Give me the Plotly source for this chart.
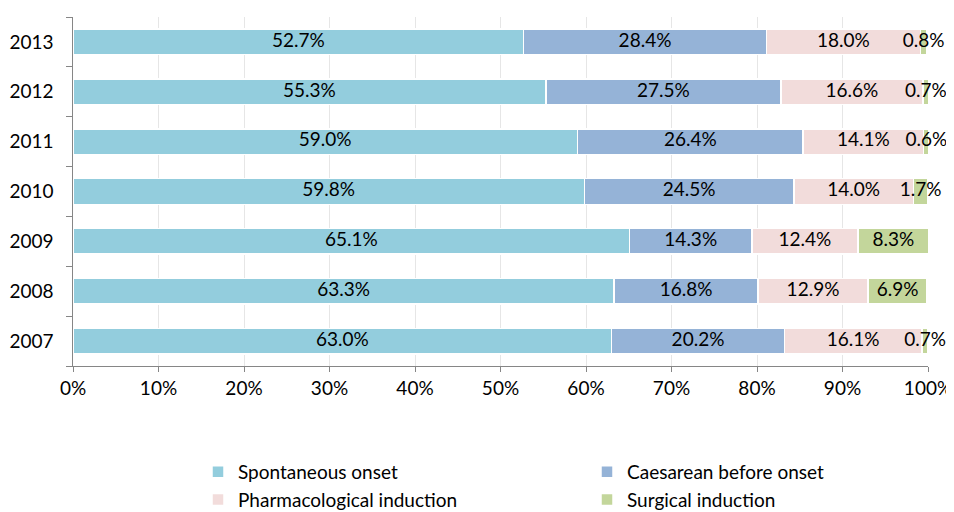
import plotly.graph_objects as go

years = ['2007', '2008', '2009', '2010', '2011', '2012', '2013']
spontaneous = [63.0, 63.3, 65.1, 59.8, 59.0, 55.3, 52.7]
caesarean = [20.2, 16.8, 14.3, 24.5, 26.4, 27.5, 28.4]
pharmacological = [16.1, 12.9, 12.4, 14.0, 14.1, 16.6, 18.0]
surgical = [0.7, 6.9, 8.3, 1.7, 0.6, 0.7, 0.8]

series = [
    ('Spontaneous onset', spontaneous, '#93CDDD'),
    ('Caesarean before onset', caesarean, '#95B3D7'),
    ('Pharmacological induction', pharmacological, '#F2DCDB'),
    ('Surgical induction', surgical, '#C3D69B'),
]

FONT = 'Lato, Open Sans, sans-serif'
# page body has an 8px default margin, so the figure is 8px smaller each way
W, H = 946, 504

fig = go.Figure()
base = [0.0] * len(years)
for name, vals, color in series:
    fig.add_trace(go.Bar(
        y=years,
        x=vals,
        name=name,
        orientation='h',
        marker=dict(color=color, line=dict(color='white', width=1.5)),
    ))
    # value labels centred on each segment (small ones may overflow)
    fig.add_trace(go.Scatter(
        y=years,
        x=[b + v / 2 for b, v in zip(base, vals)],
        text=[f'{v:.1f}%' for v in vals],
        mode='text',
        textposition='middle center',
        textfont=dict(family=FONT, size=19, color='black'),
        showlegend=False,
        hoverinfo='skip',
        cliponaxis=False,
    ))
    base = [b + v for b, v in zip(base, vals)]

fig.update_layout(
    barmode='stack',
    bargap=0.486,
    width=W,
    height=H,
    margin=dict(l=65, r=26, t=9, b=146),
    font=dict(family=FONT, size=19, color='black'),
    paper_bgcolor='white',
    plot_bgcolor='white',
    xaxis=dict(
        range=[0, 100],
        tickvals=[0, 10, 20, 30, 40, 50, 60, 70, 80, 90, 100],
        ticktext=['0%', '10%', '20%', '30%', '40%', '50%', '60%', '70%', '80%', '90%', '100%'],
        tickangle=0,
        showgrid=True,
        gridcolor='#E6E6E6',
        gridwidth=1,
        showline=True,
        linecolor='#868686',
        ticks='outside',
        ticklen=5,
        tickcolor='#868686',
        zeroline=False,
        automargin=False,
    ),
    yaxis=dict(
        type='category',
        categoryorder='array',
        categoryarray=years,
        showline=True,
        linecolor='#868686',
        ticks='outside',
        ticklen=6,
        tickcolor='#868686',
        tickson='boundaries',
        showgrid=False,
        ticksuffix='   ',
        automargin=False,
    ),
    legend=dict(
        orientation='h',
        xref='container',
        yref='container',
        x=190 / W,
        y=1 - 445 / H,
        xanchor='left',
        yanchor='top',
        entrywidth=344,
        itemwidth=30,
        traceorder='normal',
        font=dict(family=FONT, size=19, color='black'),
        bgcolor='rgba(0,0,0,0)',
    ),
)

fig.write_html("out.html")
